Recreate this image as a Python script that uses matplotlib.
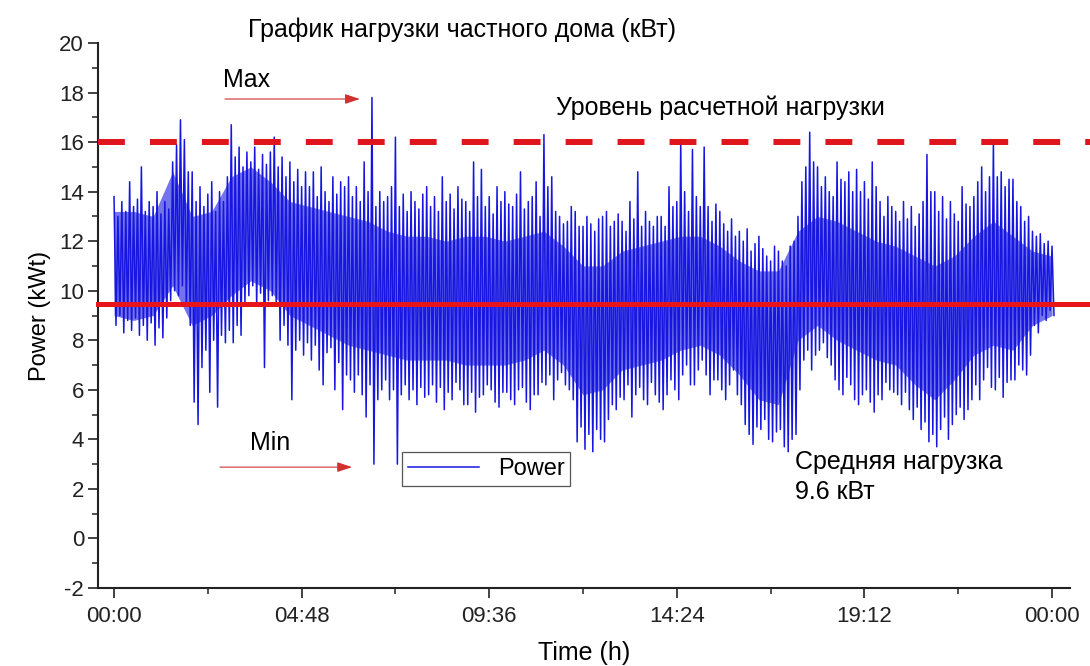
import numpy as np
import matplotlib
matplotlib.use("Agg")
import matplotlib.pyplot as plt
from matplotlib.ticker import FixedLocator, MultipleLocator

plt.rcParams["font.family"] = ["Liberation Sans", "DejaVu Sans"]
plt.rcParams["axes.unicode_minus"] = False

# шаг 0.1 ч: верхний и нижний отсчёт в каждом интервале (кВт)
step_h = 0.1
power_hi = [
    13.8, 13.0, 13.6, 13.2, 14.4, 13.4, 13.7, 15.0, 13.2, 13.6,
    13.4, 14.0, 13.1, 13.6, 13.3, 15.2, 15.9, 16.9, 16.1, 14.8,
    14.8, 13.6, 14.2, 13.4, 13.9, 14.4, 13.2, 14.0, 13.6, 14.6,
    16.7, 15.4, 15.8, 15.0, 15.6, 15.2, 15.8, 14.9, 15.5, 15.1,
    15.6, 16.2, 15.0, 15.4, 14.6, 15.2, 14.4, 14.9, 14.2, 14.8,
    14.2, 14.8, 13.8, 15.0, 14.0, 13.6, 14.6, 13.9, 14.4, 14.2,
    14.6, 13.8, 14.2, 13.6, 15.2, 14.0, 17.8, 13.4, 14.0, 13.6,
    13.8, 14.2, 16.2, 13.4, 13.9, 13.2, 14.0, 13.6, 13.3, 13.9,
    14.2, 13.4, 13.8, 13.2, 14.6, 13.6, 13.9, 13.3, 14.2, 13.7,
    13.6, 13.2, 15.2, 13.8, 14.9, 13.4, 13.8, 13.1, 14.2, 13.6,
    14.0, 13.5, 13.4, 13.9, 14.8, 13.3, 13.6, 13.8, 14.4, 13.0,
    16.3, 14.2, 14.6, 13.2, 13.0, 12.7, 12.8, 13.4, 13.2, 12.6,
    12.6, 13.0, 12.7, 12.4, 12.9, 13.0, 13.2, 12.6, 12.8, 13.1,
    12.8, 12.4, 13.6, 12.9, 14.8, 12.6, 13.2, 12.8, 12.6, 13.0,
    13.0, 12.6, 14.2, 13.4, 13.6, 16.1, 14.0, 13.2, 15.7, 13.8,
    13.4, 15.8, 13.4, 12.8, 13.5, 13.2, 12.7, 12.4, 12.9, 12.2,
    12.4, 12.0, 12.5, 11.6, 11.9, 12.2, 11.7, 11.4, 11.2, 11.8,
    11.6, 11.2, 11.0, 11.8, 12.0, 13.0, 14.4, 15.0, 16.4, 15.2,
    15.0, 14.2, 14.6, 14.0, 13.8, 15.2, 14.5, 14.4, 14.8, 14.0,
    14.9, 14.0, 14.4, 13.7, 15.2, 14.2, 13.6, 13.0, 13.8, 13.4,
    13.2, 12.8, 13.6, 12.9, 13.4, 12.6, 13.1, 13.6, 15.5, 14.0,
    14.0, 13.2, 13.8, 12.9, 13.6, 13.1, 12.8, 14.2, 13.5, 13.4,
    13.8, 14.4, 15.0, 14.0, 14.6, 16.0, 14.6, 14.8, 14.2, 14.5,
    14.5, 13.6, 13.4, 12.8, 13.0, 12.4, 12.2, 12.3, 11.9, 12.0,
    11.8,
]
power_lo = [
    8.6, 9.0, 8.3, 8.8, 8.4, 8.9, 8.2, 8.6, 8.0, 8.7,
    7.8, 8.5, 8.1, 8.9, 9.6, 10.0, 9.8, 10.2, 9.4, 8.6,
    5.5, 4.6, 6.9, 7.6, 5.9, 8.0, 5.3, 8.2, 7.9, 8.4,
    7.9, 8.6, 8.2, 9.5, 9.8, 10.2, 9.4, 9.9, 6.9, 9.6,
    9.8, 9.4, 8.0, 8.6, 7.8, 5.6, 7.6, 8.0, 7.4, 7.9,
    7.2, 7.8, 6.8, 6.2, 7.5, 7.7, 6.0, 7.1, 5.2, 6.6,
    6.4, 5.9, 6.6, 5.8, 4.9, 6.2, 3.0, 5.6, 6.0, 6.4,
    5.6, 6.0, 3.0, 5.8, 6.2, 5.6, 6.0, 5.4, 6.1, 5.7,
    5.8, 6.2, 5.5, 6.1, 5.2, 5.9, 5.6, 6.3, 6.0, 5.4,
    5.4, 5.9, 5.1, 5.7, 5.8, 6.2, 6.0, 5.5, 5.3, 5.9,
    5.9, 5.6, 5.4, 6.0, 6.1, 5.5, 5.2, 5.8, 5.8, 6.3,
    6.2, 6.6, 5.6, 6.4, 6.7, 6.2, 6.0, 5.6, 3.9, 4.5,
    3.6, 4.2, 3.5, 4.4, 4.0, 3.9, 4.8, 5.4, 5.2, 5.7,
    5.6, 6.2, 4.9, 5.8, 6.1, 5.6, 5.4, 6.3, 5.8, 5.5,
    5.2, 5.8, 6.4, 6.0, 5.6, 6.6, 7.0, 6.2, 6.2, 6.8,
    7.2, 6.6, 5.8, 6.4, 6.4, 6.0, 5.6, 6.2, 6.8, 5.8,
    5.4, 4.6, 4.2, 3.8, 4.5, 4.4, 4.8, 4.0, 3.9, 4.3,
    4.4, 3.7, 3.5, 4.0, 4.2, 6.0, 7.2, 7.6, 6.8, 7.4,
    7.6, 7.9, 7.3, 7.0, 6.4, 6.0, 5.8, 6.5, 6.2, 5.6,
    5.4, 5.8, 6.0, 5.5, 5.1, 5.8, 5.6, 6.3, 6.0, 5.9,
    5.8, 5.4, 5.9, 5.2, 4.8, 5.3, 4.4, 4.7, 3.9, 4.2,
    3.7, 4.4, 4.9, 4.0, 4.6, 5.0, 5.3, 4.8, 5.2, 5.6,
    6.2, 5.6, 6.4, 6.9, 6.1, 6.0, 6.5, 5.7, 6.3, 6.4,
    6.4, 7.0, 6.8, 6.6, 7.4, 8.6, 8.3, 9.0, 8.8, 9.2,
    9.0,
]

# плотная часть сигнала (заливка), шаг 0.5 ч
core_t = [
    0.0, 0.5, 1.0, 1.5, 2.0, 2.5, 3.0, 3.5, 4.0, 4.5,
    5.0, 5.5, 6.0, 6.5, 7.0, 7.5, 8.0, 8.5, 9.0, 9.5,
    10.0, 10.5, 11.0, 11.5, 12.0, 12.5, 13.0, 13.5, 14.0, 14.5,
    15.0, 15.5, 16.0, 16.5, 17.0, 17.5, 18.0, 18.5, 19.0, 19.5,
    20.0, 20.5, 21.0, 21.5, 22.0, 22.5, 23.0, 23.5, 24.0,
]
core_hi = [
    13.2, 13.2, 13.0, 14.8, 13.0, 13.2, 14.6, 15.0, 14.4, 13.6,
    13.4, 13.2, 13.0, 12.8, 12.4, 12.2, 12.2, 12.0, 12.2, 12.2,
    12.0, 12.2, 12.4, 11.8, 11.0, 11.0, 11.6, 11.8, 12.0, 12.2,
    12.2, 11.8, 11.2, 10.8, 10.8, 12.4, 13.0, 12.8, 12.4, 12.0,
    11.8, 11.4, 11.0, 11.4, 12.2, 12.8, 12.2, 11.6, 11.4,
]
core_lo = [
    9.0, 8.8, 9.0, 10.2, 8.6, 9.0, 9.8, 10.4, 10.0, 9.0,
    8.6, 8.2, 7.8, 7.6, 7.4, 7.2, 7.2, 7.2, 7.0, 7.0,
    7.0, 7.2, 7.6, 7.0, 5.8, 6.0, 6.8, 7.0, 7.2, 7.6,
    7.8, 7.4, 6.6, 5.6, 5.4, 8.0, 8.6, 8.0, 7.6, 7.2,
    7.0, 6.2, 5.6, 6.4, 7.4, 7.8, 7.6, 8.6, 9.0,
]

design_load = 16.0
mean_load = 9.45

xtick_pos = [0, 4.8, 9.6, 14.4, 19.2, 24.0]
xtick_labels = ["00:00", "04:48", "09:36", "14:24", "19:12", "00:00"]

# ломаная: верхний отсчёт в начале интервала, нижний в середине
t_hi = np.arange(len(power_hi)) * step_h
t = np.empty(2 * len(power_hi))
p = np.empty(2 * len(power_hi))
t[0::2] = t_hi
t[1::2] = t_hi + step_h / 2
p[0::2] = power_hi
p[1::2] = power_lo

blue = "#1616e0"

fig = plt.figure(figsize=(10.9, 6.66), dpi=100)
ax = fig.add_axes([98 / 1090, 78 / 666, 972 / 1090, 545 / 666])

ax.fill_between(core_t, core_lo, core_hi, color=blue, alpha=0.6, lw=0, zorder=1)
ax.plot(t, p, color=blue, lw=1.1, label="Power", zorder=2)

x_ext = [-0.41, 24.97]
ax.plot(x_ext, [design_load] * 2, color="#e0141c", lw=4.3, dashes=(4.5, 4.2),
        clip_on=False, zorder=3, dash_capstyle="butt")
ax.plot(x_ext, [mean_load] * 2, color="#e8141c", lw=3.6, clip_on=False, zorder=3)

ax.set_xlim(-0.41, 24.46)
ax.set_ylim(-2, 20)

ax.xaxis.set_major_locator(FixedLocator(xtick_pos))
ax.set_xticklabels(xtick_labels)
ax.xaxis.set_minor_locator(FixedLocator([2.4, 7.2, 12.0, 16.8, 21.6]))
ax.yaxis.set_major_locator(MultipleLocator(2))
ax.yaxis.set_minor_locator(MultipleLocator(1))

for s in ["top", "right"]:
    ax.spines[s].set_visible(False)
for s in ["left", "bottom"]:
    ax.spines[s].set_linewidth(1.5)
    ax.spines[s].set_color("#222222")

ax.tick_params(axis="both", which="major", length=7, width=1.2, labelsize=16,
               colors="#222222")
ax.tick_params(axis="both", which="minor", length=4, width=1.1, colors="#222222")
ax.tick_params(axis="y", pad=3)
ax.tick_params(axis="x", pad=6)

ax.set_xlabel("Time (h)", fontsize=18, labelpad=10)
ax.set_ylabel("Power (kWt)", fontsize=17, labelpad=6)

# стрелки Max / Min
arrow_kw = dict(arrowstyle="-|>,head_length=0.9,head_width=0.3", color="#d03030",
                lw=0.8, shrinkA=0, shrinkB=0)
ax.annotate("", xy=(6.29, 17.74), xytext=(2.84, 17.74), arrowprops=arrow_kw)
ax.annotate("", xy=(6.09, 2.88), xytext=(2.71, 2.88), arrowprops=arrow_kw)
ax.text(3.38, 18.5, "Max", fontsize=18, va="center", ha="center")
ax.text(4.0, 3.85, "Min", fontsize=18, va="center", ha="center")

fig.text(462 / 1090, 1 - 30 / 666, "График нагрузки частного дома (кВт)",
         fontsize=18, va="center", ha="center")
fig.text(720 / 1090, 1 - 108 / 666, "Уровень расчетной нагрузки",
         fontsize=18, va="center", ha="center")
fig.text(795 / 1090, 1 - 462 / 666, "Средняя нагрузка",
         fontsize=18, va="center", ha="left")
fig.text(795 / 1090, 1 - 492 / 666, "9.6 кВт",
         fontsize=18, va="center", ha="left")

leg = ax.legend(loc="upper left", bbox_to_anchor=(402 / 1090, 1 - 452 / 666),
                bbox_transform=fig.transFigure, borderaxespad=0, fancybox=False,
                framealpha=1, edgecolor="#555555", fontsize=17, handlelength=3.0,
                borderpad=0.25)
leg.get_frame().set_linewidth(0.9)

fig.savefig("out.png", dpi=100)
